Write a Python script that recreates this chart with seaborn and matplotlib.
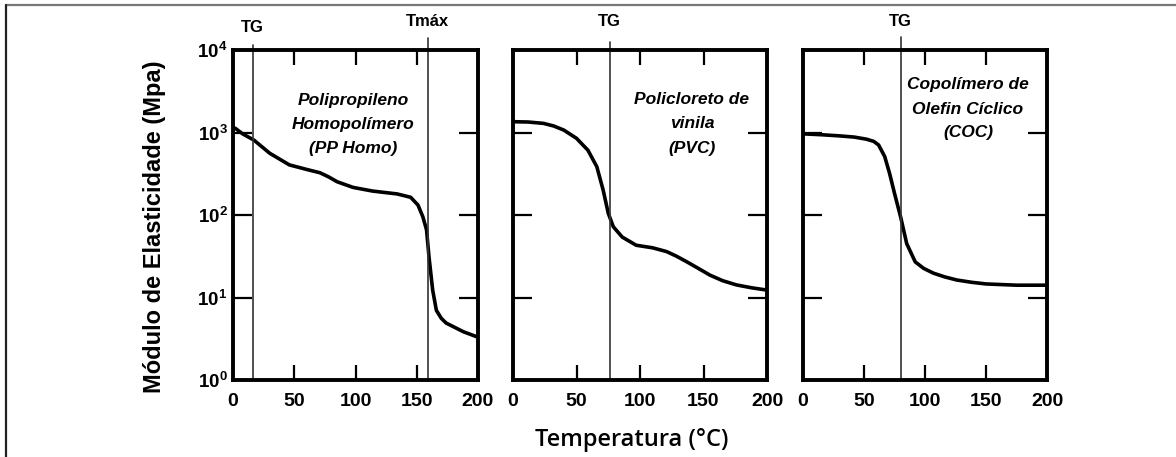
import numpy as np
import pandas as pd
import matplotlib
matplotlib.use("Agg")
import matplotlib.pyplot as plt
import seaborn as sns
from matplotlib.lines import Line2D

# --- data: elastic modulus (MPa) versus temperature (°C) ---
pp_temp = [0, 2, 8, 17, 30, 46, 60, 71, 78, 85, 98, 114, 134, 145, 151, 155,
           158, 160, 163, 166, 170, 174, 188, 200]
pp_mod = [1150, 1120, 960, 810, 560, 405, 357, 325, 290, 253, 216, 195, 180,
          164, 132, 95, 66, 31, 12.3, 7.0, 5.6, 4.9, 3.85, 3.3]

pvc_temp = [0, 2, 12, 24, 32, 40, 50, 59, 66, 71, 75, 79, 86, 97, 110, 121,
            129, 137, 146, 155, 165, 176, 188, 200]
pvc_mod = [1350, 1350, 1340, 1290, 1200, 1070, 850, 610, 385, 200, 105, 72,
           54, 43, 40, 36, 31.5, 27, 22.5, 18.7, 16, 14.2, 13.1, 12.3]

coc_temp = [0, 2, 15, 30, 42, 52, 58, 62, 67, 71, 75, 80, 85, 92, 99, 107,
            116, 126, 138, 150, 175, 200]
coc_mod = [960, 960, 940, 910, 880, 830, 780, 705, 510, 318, 183, 95, 45, 27,
           22.5, 19.7, 17.8, 16.3, 15.3, 14.6, 14.1, 14.1]

materials = ["PP", "PVC", "COC"]
panel_titles = ["Polipropileno\nHomopolímero\n(PP Homo)",
                "Policloreto de\nvinila\n(PVC)",
                "Copolímero de\nOlefin Cíclico\n(COC)"]
# transition markers per panel: (temperature, label)
markers = [[(16, "TG"), (159, "Tmáx")], [(76, "TG")], [(80, "TG")]]

x_ticks = [0, 50, 100, 150, 200]
y_ticks = [1, 10, 100, 1000, 10000]
y_tick_labels = [r"$\mathbf{10^{0}}$", r"$\mathbf{10^{1}}$", r"$\mathbf{10^{2}}$",
                 r"$\mathbf{10^{3}}$", r"$\mathbf{10^{4}}$"]

df = pd.concat([
    pd.DataFrame({"material": "PP", "temp": pp_temp, "modulo": pp_mod}),
    pd.DataFrame({"material": "PVC", "temp": pvc_temp, "modulo": pvc_mod}),
    pd.DataFrame({"material": "COC", "temp": coc_temp, "modulo": coc_mod}),
], ignore_index=True)

sns.set_style("white")
plt.rcParams["font.family"] = ["Liberation Sans", "DejaVu Sans"]
plt.rcParams["mathtext.fontset"] = "custom"
plt.rcParams["mathtext.bf"] = "Liberation Sans:bold"
plt.rcParams["mathtext.rm"] = "Liberation Sans"
plt.rcParams["text.color"] = "black"
plt.rcParams["xtick.color"] = "black"
plt.rcParams["ytick.color"] = "black"
plt.rcParams["xtick.labelcolor"] = "black"
plt.rcParams["ytick.labelcolor"] = "black"

W, H = 1176, 457
fig = plt.figure(figsize=(W / 100, H / 100), dpi=100)

# panel extents in pixels: (left, right)
panel_px = [(233, 478), (513, 767), (803, 1047)]
top_px, bot_px = 50, 380

# transition-label centre heights and marker-line tops (pixels from top)
label_y = [[28, 21], [21], [21]]
line_top = [[45, 38], [42], [37]]
title_px = [(353, 100), (692, 100), (968, 85)]

for i, (mat, (l, r)) in enumerate(zip(materials, panel_px)):
    ax = fig.add_axes([l / W, 1 - bot_px / H, (r - l) / W, (bot_px - top_px) / H])
    sub = df[df["material"] == mat]
    sns.lineplot(data=sub, x="temp", y="modulo", ax=ax, color="black",
                 linewidth=2.6, estimator=None, legend=False)
    ax.lines[-1].set_solid_joinstyle("round")
    ax.set_yscale("log")
    ax.set_xlim(0, 200)
    ax.set_ylim(1, 10000)
    ax.set_xlabel("")
    ax.set_ylabel("")
    ax.minorticks_off()

    ax.set_xticks(x_ticks)
    ax.set_xticklabels([str(t) for t in x_ticks], fontweight="bold", fontsize=14)
    ax.set_yticks(y_ticks)
    if i == 0:
        ax.set_yticklabels(y_tick_labels, fontsize=13.5)
    else:
        ax.set_yticklabels([])

    ax.tick_params(axis="x", direction="in", length=11, width=1.6, top=True,
                   bottom=True, pad=9)
    ax.tick_params(axis="y", direction="in", length=14, width=1.6, left=True,
                   right=True, pad=4)
    for s in ax.spines.values():
        s.set_linewidth(2.8)
        s.set_color("black")
        s.set_visible(True)

    # transition temperature markers extending above the frame
    for (tx, lab), ly, lt in zip(markers[i], label_y[i], line_top[i]):
        ymax = (bot_px - lt) / (bot_px - top_px)
        ax.axvline(tx, ymin=0, ymax=ymax, color="#333333", linewidth=1.2,
                   clip_on=False)
        xfig = (l + (r - l) * tx / 200) / W
        fig.text(xfig, 1 - ly / H, lab, ha="center", va="center",
                 fontsize=12, fontweight="bold")

    tx, ty = title_px[i]
    for k, line in enumerate(panel_titles[i].split("\n")):
        fig.text(tx / W, 1 - (ty + 24 * k) / H, line, ha="center",
                 va="center", fontsize=12.5, fontweight="bold", style="italic")

fig.text(155 / W, 1 - 227 / H, "Módulo de Elasticidade (Mpa)", rotation=90,
         ha="center", va="center", fontsize=17, fontweight="bold")
fig.text(632 / W, 1 - 440 / H, "Temperatura (°C)", ha="center", va="center",
         fontsize=17, fontweight="semibold", family=["Open Sans", "DejaVu Sans"])

# thin grey frame along the top and left edges
fig.add_artist(Line2D([6 / W, 1], [1 - 5 / H, 1 - 5 / H], color="#777777",
                      linewidth=1.6, transform=fig.transFigure))
fig.add_artist(Line2D([6 / W, 6 / W], [0, 1 - 5 / H], color="#222222",
                      linewidth=1.6, transform=fig.transFigure))

fig.savefig("out.png", dpi=100, facecolor="white")
